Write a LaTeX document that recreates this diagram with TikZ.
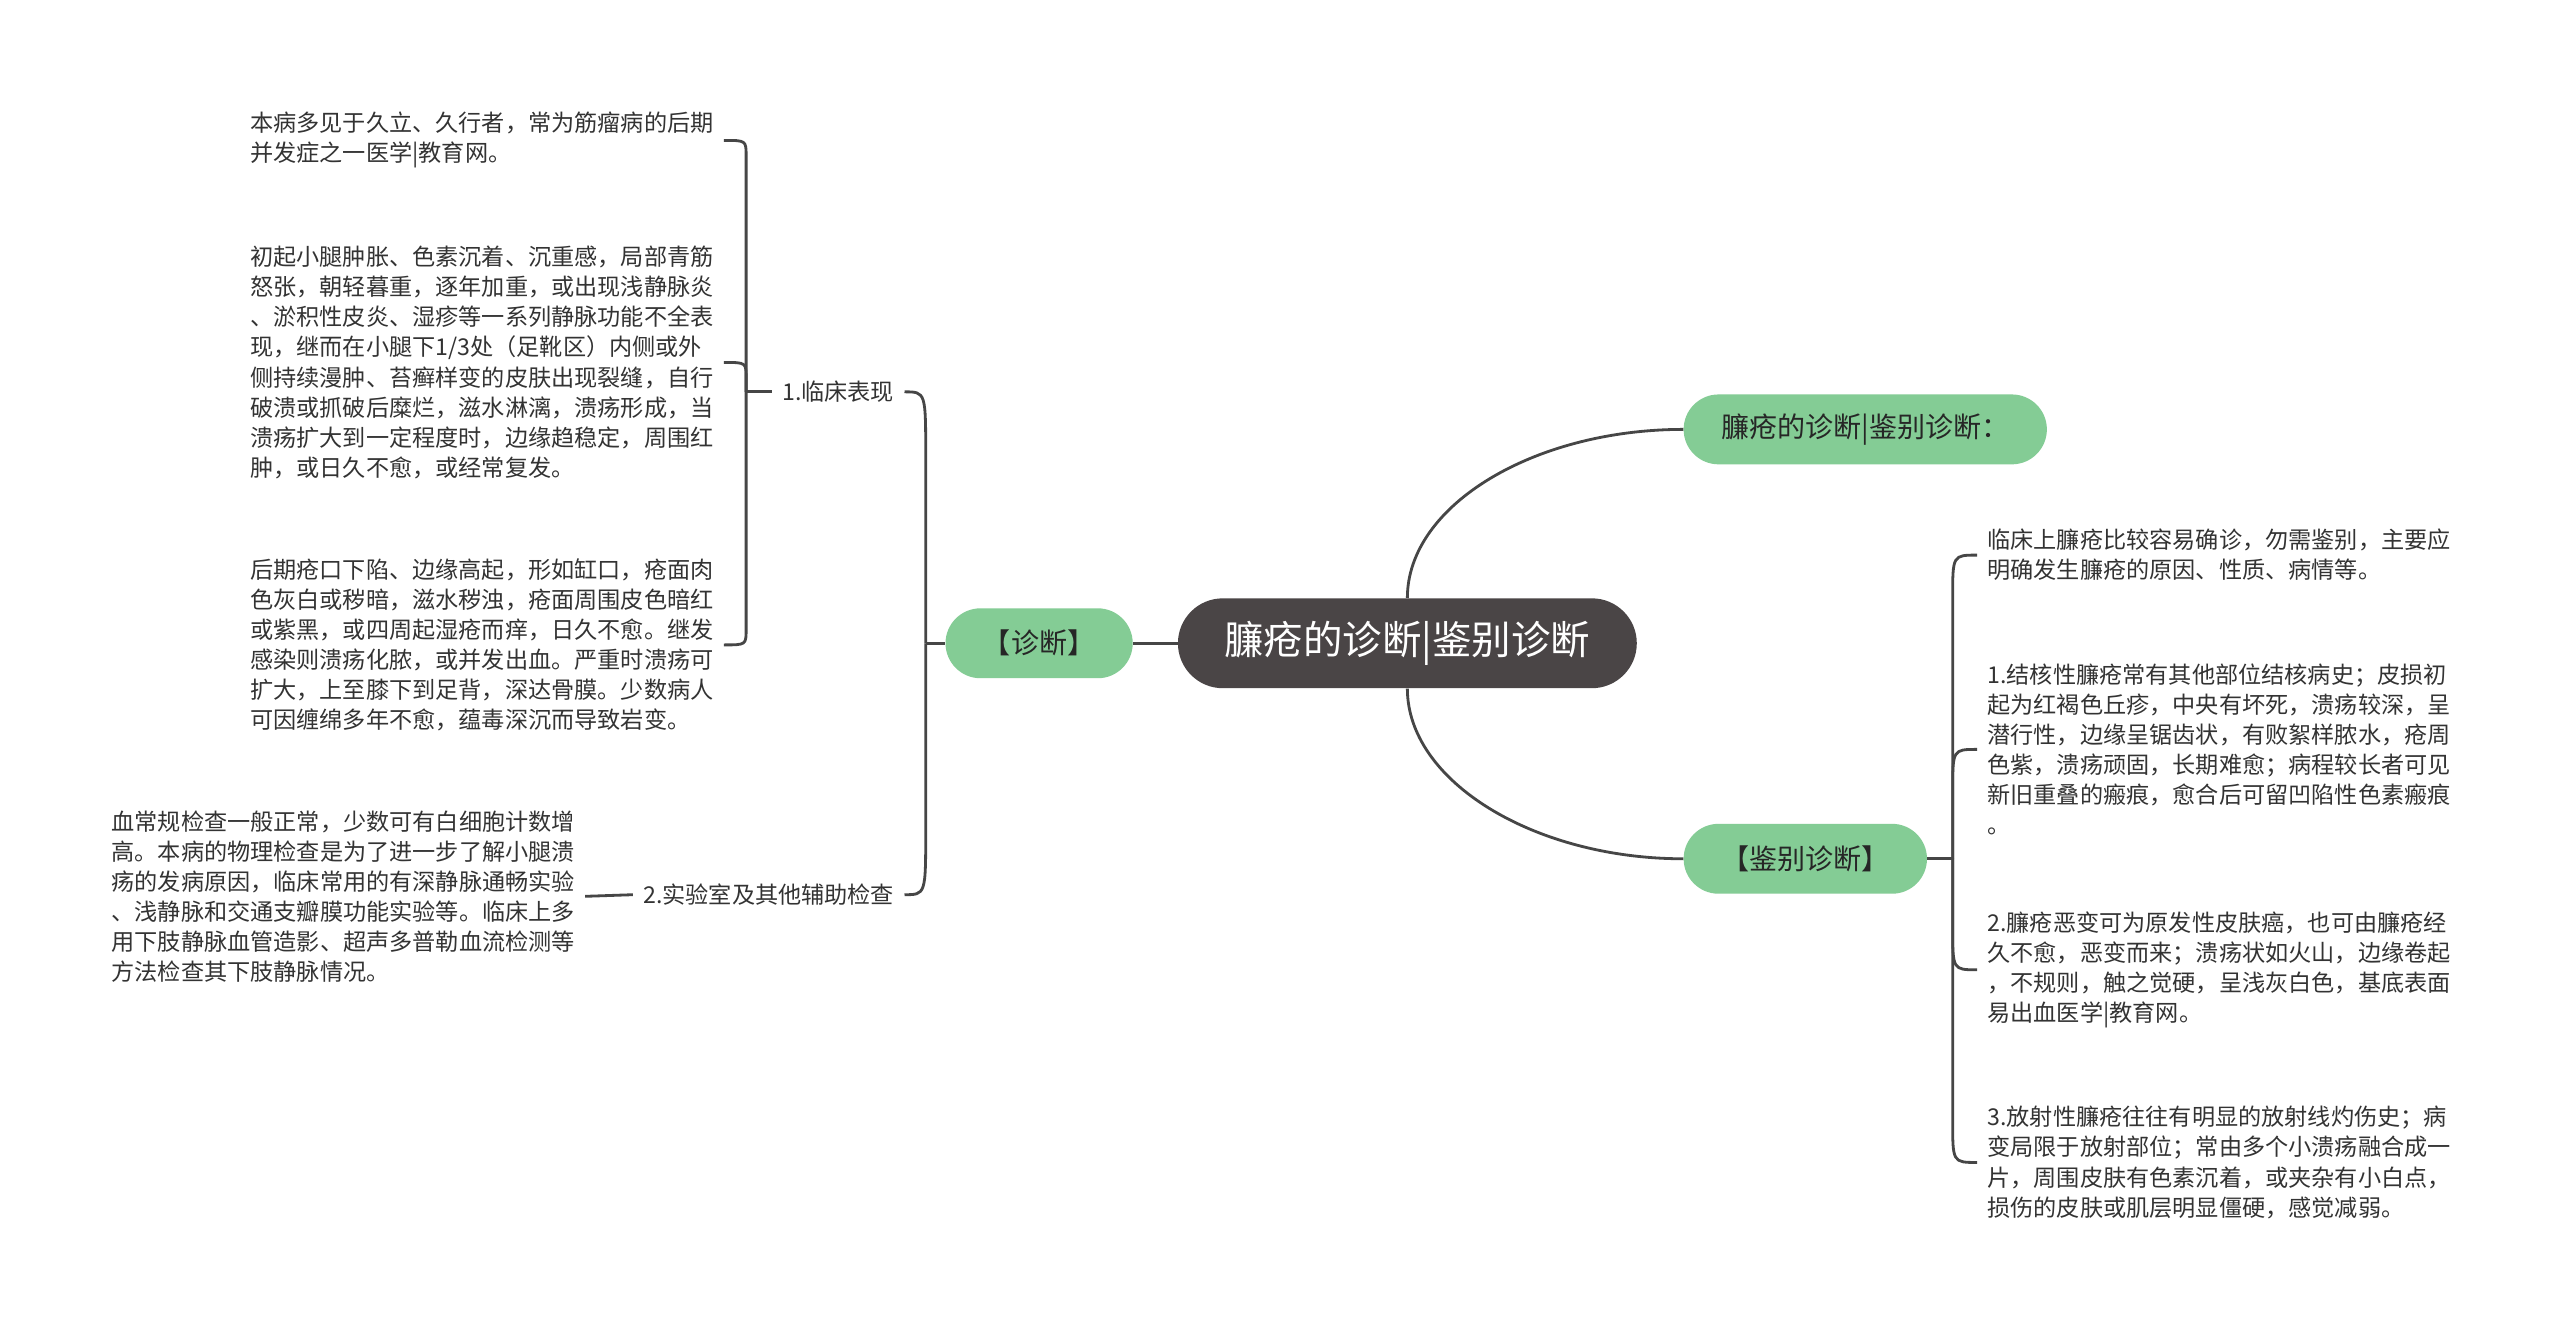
\documentclass[tikz,border=0pt]{standalone}
\usepackage{fontspec}
\setmainfont{Noto Sans CJK SC}
\definecolor{rootgray}{HTML}{4A4546}
\definecolor{leafgreen}{HTML}{84CC95}
\definecolor{linegray}{HTML}{464646}
\definecolor{txtgray}{HTML}{333333}
\tikzset{
  root/.style = {fill = rootgray, text = white, rounded corners = 0.9cm, minimum height = 1.8cm, inner xsep = 0.93cm, font = \fontsize{22.5}{27}\selectfont},
  topic/.style = {fill = leafgreen, text = black!85, rounded corners = 0.7cm, minimum height = 1.4cm, inner xsep = 0.75cm, font = \fontsize{16}{19}\selectfont},
  leaf/.style = {text = txtgray, align = left, inner xsep = 0.2cm, inner ysep = 0pt, font = \fontsize{13.2}{17.1}\selectfont},
  link/.style = {draw = linegray, line width = 1.6pt},
  elbow/.style = {to path = {-- ([yshift = #1]\tikztostart |- \tikztotarget) .. controls (\tikztostart |- \tikztotarget) .. (\tikztotarget)}}
}

\begin{document}
\begin{tikzpicture}[x = 0.0327cm, y = -0.0327cm]
\useasboundingbox[fill = white] (0,0) rectangle (1568,816);
\node[root] (main) at (862,394) {臁疮的诊断|鉴别诊断};
\node[topic, anchor = east] (zd) at (694,394) {【诊断】};
\node[topic, anchor = west] (bz) at (1031,263) {臁疮的诊断|鉴别诊断：};
\node[topic, anchor = west] (jb) at (1031,526) {【鉴别诊断】};
\node[leaf, anchor = east] (lc) at (554,240) {1.临床表现};
\node[leaf, anchor = east] (sy) at (554,548) {2.实验室及其他辅助检查};
\node[leaf, anchor = west] (t1) at (147,86) {本病多见于久立、久行者，常为筋瘤病的后期\\并发症之一医学|教育网。};
\node[leaf, anchor = west] (t2) at (147,222) {初起小腿肿胀、色素沉着、沉重感，局部青筋\\怒张，朝轻暮重，逐年加重，或出现浅静脉炎\\、淤积性皮炎、湿疹等一系列静脉功能不全表\\现，继而在小腿下1/3处（足靴区）内侧或外\\侧持续漫肿、苔癣样变的皮肤出现裂缝，自行\\破溃或抓破后糜烂，滋水淋漓，溃疡形成，当\\溃疡扩大到一定程度时，边缘趋稳定，周围红\\肿，或日久不愈，或经常复发。};
\node[leaf, anchor = west] (t3) at (147,395) {后期疮口下陷、边缘高起，形如缸口，疮面肉\\色灰白或秽暗，滋水秽浊，疮面周围皮色暗红\\或紫黑，或四周起湿疮而痒，日久不愈。继发\\感染则溃疡化脓，或并发出血。严重时溃疡可\\扩大，上至膝下到足背，深达骨膜。少数病人\\可因缠绵多年不愈，蕴毒深沉而导致岩变。};
\node[leaf, anchor = west] (t4) at (62,549) {血常规检查一般正常，少数可有白细胞计数增\\高。本病的物理检查是为了进一步了解小腿溃\\疡的发病原因，临床常用的有深静脉通畅实验\\、浅静脉和交通支瓣膜功能实验等。临床上多\\用下肢静脉血管造影、超声多普勒血流检测等\\方法检查其下肢静脉情况。};
\node[leaf, anchor = west] (r0) at (1211,340) {临床上臁疮比较容易确诊，勿需鉴别，主要应\\明确发生臁疮的原因、性质、病情等。};
\node[leaf, anchor = west] (r1) at (1211,459) {1.结核性臁疮常有其他部位结核病史；皮损初\\起为红褐色丘疹，中央有坏死，溃疡较深，呈\\潜行性，边缘呈锯齿状，有败絮样脓水，疮周\\色紫，溃疡顽固，长期难愈；病程较长者可见\\新旧重叠的瘢痕，愈合后可留凹陷性色素瘢痕\\。};
\node[leaf, anchor = west] (r2) at (1211,594) {2.臁疮恶变可为原发性皮肤癌，也可由臁疮经\\久不愈，恶变而来；溃疡状如火山，边缘卷起\\，不规则，触之觉硬，呈浅灰白色，基底表面\\易出血医学|教育网。};
\node[leaf, anchor = west] (r3) at (1211,712) {3.放射性臁疮往往有明显的放射线灼伤史；病\\变局限于放射部位；常由多个小溃疡融合成一\\片，周围皮肤有色素沉着，或夹杂有小白点，\\损伤的皮肤或肌层明显僵硬，感觉减弱。};
\coordinate (jd) at (567,394);
\coordinate (jl) at (457,240);
\coordinate (jr) at (1196,526);
\draw[link] (main) -- (zd);
\draw[link] (main.north) .. controls +(0,-57) and +(-91,0) .. (bz.west);
\draw[link] (main.south) .. controls +(0,57) and +(-91,0) .. (jb.west);
\draw[link] (zd.west) -- (jd);
\draw[link] (jd) to[elbow = -37pt] (lc.east);
\draw[link] (jd) to[elbow = 37pt] (sy.east);
\draw[link] (lc.west) -- (jl);
\draw[link] (jl) to[elbow = -9pt] (t1.east);
\draw[link] (jl) to[elbow = -9pt] (t2.east);
\draw[link] (jl) to[elbow = 9pt] (t3.east);
\draw[link] (sy.west) -- (t4.east);
\draw[link] (jb.east) -- (jr);
\draw[link] (jr) to[elbow = -24pt] (r0.west);
\draw[link] (jr) to[elbow = -24pt] (r1.west);
\draw[link] (jr) to[elbow = 24pt] (r2.west);
\draw[link] (jr) to[elbow = 24pt] (r3.west);
\end{tikzpicture}
\end{document}
